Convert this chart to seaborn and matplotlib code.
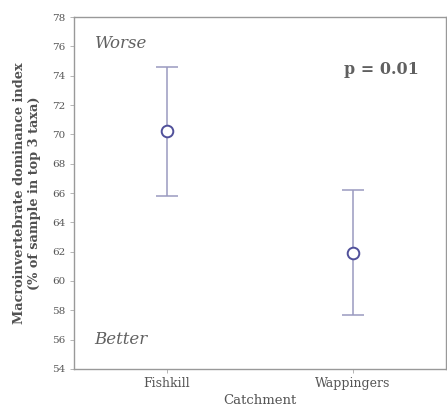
import numpy as np
import pandas as pd
import matplotlib
matplotlib.use('Agg')
import matplotlib.pyplot as plt
import seaborn as sns

# values
catchments = ['Fishkill', 'Wappingers']
mean_index = [70.2, 61.9]
lower = [65.8, 57.7]
upper = [74.6, 66.2]
y_ticks = list(range(54, 79, 2))

df = pd.DataFrame({'Catchment': catchments, 'Index': mean_index,
                   'lo': lower, 'hi': upper})

sns.set_theme(style='white')
plt.rcParams['font.family'] = ['DejaVu Serif', 'Liberation Serif']

fig = plt.figure(figsize=(4.47, 4.09), dpi=100)
ax = fig.add_axes([0.1655, 0.098, 0.832, 0.86])

xpos = np.arange(len(catchments))
err = [df['Index'] - df['lo'], df['hi'] - df['Index']]
ax.errorbar(xpos, df['Index'], yerr=err, fmt='none', ecolor='#9a9ac0',
            elinewidth=1.1, capsize=8, capthick=1.1, zorder=1)
sns.scatterplot(x=xpos, y=df['Index'], ax=ax, marker='o', s=70,
                facecolor='white', edgecolor='#50509a', linewidth=1.4,
                zorder=3, legend=False)

ax.set_xlim(-0.5, 1.5)
ax.set_ylim(54, 78)
ax.set_xticks(xpos)
ax.set_xticklabels(catchments, fontsize=9, color='#555555')
ax.set_yticks(y_ticks)
ax.set_yticklabels([str(t) for t in y_ticks], fontsize=7.5, color='#555555')
ax.tick_params(axis='both', direction='out', length=3, width=0.6,
               color='#aaaaaa', left=True, bottom=True, pad=3)

for s in ax.spines.values():
    s.set_color('#999999')
    s.set_linewidth(1.0)

ax.set_xlabel('Catchment', fontsize=9.5, color='#555555', labelpad=3)
ax.set_ylabel('Macroinvertebrate dominance index\n(% of sample in top 3 taxa)',
              fontsize=9.3, fontweight='bold', color='#505050', labelpad=8)

ax.text(0.055, 0.925, 'Worse', transform=ax.transAxes, fontsize=12,
        style='italic', color='#606060', va='center')
ax.text(0.055, 0.085, 'Better', transform=ax.transAxes, fontsize=12,
        style='italic', color='#606060', va='center')
ax.text(0.725, 0.85, 'p = 0.01', transform=ax.transAxes, fontsize=11.5,
        fontweight='bold', color='#606060', va='center')

fig.savefig('out.png', dpi=100, facecolor='white')
